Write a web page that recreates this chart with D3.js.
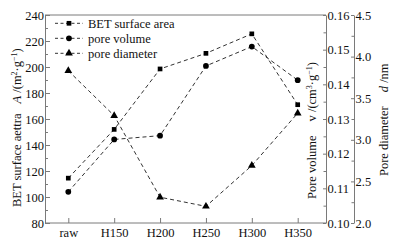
<!DOCTYPE html>
<html><head><meta charset="utf-8">
<script src="https://cdn.jsdelivr.net/npm/d3@7"></script>
<style>
body{margin:0;background:#fff}
text{font-family:"Liberation Serif","Times New Roman",serif;fill:#111}
</style></head>
<body><svg id="c" width="398" height="247"></svg>
<script>
const categories = ["raw","H150","H200","H250","H300","H350"];
const betArea = [114.5, 152, 198.5, 210.5, 225.5, 171];
const poreVolume = [0.109, 0.1241, 0.1252, 0.1453, 0.1509, 0.1412];
const poreDiameter = [3.83, 3.29, 2.31, 2.20, 2.69, 3.32];
const leftTicks = [80,100,120,140,160,180,200,220,240];
const volTicks = [0.10,0.11,0.12,0.13,0.14,0.15,0.16];
const diaTicks = [2.0,2.5,3.0,3.5,4.0,4.5];

const svg = d3.select("#c");
const L=45, R=326, T=15, B=223, R2=354;
const axisColor="#7a7a7a";
const x = d3.scalePoint().domain(categories).range([68.3, 297.7]);
const yA = d3.scaleLinear().domain([80,240]).range([B,T]);
const yV = d3.scaleLinear().domain([0.10,0.16]).range([B,T]);
const yD = d3.scaleLinear().domain([2.0,4.5]).range([B,T]);

function styleAxis(g){
  g.select(".domain").attr("stroke",axisColor);
  g.selectAll(".tick line").attr("stroke",axisColor);
  g.selectAll("text").attr("font-size",12.5).style("font-family","Liberation Serif").attr("fill","#111");
}
// frame top
svg.append("line").attr("x1",L).attr("x2",R).attr("y1",T).attr("y2",T).attr("stroke",axisColor);

// left axis minor
svg.append("g").attr("transform",`translate(${L},0)`)
  .call(d3.axisRight(yA).tickValues(d3.range(90,240,20)).tickSize(3).tickFormat(""))
  .call(g=>{g.select(".domain").remove();g.selectAll("line").attr("stroke",axisColor);});
svg.append("g").attr("transform",`translate(${L},0)`)
  .call(d3.axisLeft(yA).tickValues(leftTicks).tickSize(-5).tickPadding(1).tickSizeOuter(0))
  .call(styleAxis);
// bottom
svg.append("g").attr("transform",`translate(0,${B})`)
  .call(d3.axisBottom(x).tickSize(-5).tickPadding(5).tickSizeOuter(0))
  .call(styleAxis)
  .call(g=>g.select(".domain").attr("d",`M${L},0H${R}`));
// right volume axis
svg.append("g").attr("transform",`translate(${R},0)`)
  .call(d3.axisRight(yV).tickValues(d3.range(0.105,0.16,0.01)).tickSize(-2.5).tickFormat(""))
  .call(g=>{g.select(".domain").remove();g.selectAll("line").attr("stroke",axisColor);});
svg.append("g").attr("transform",`translate(${R},0)`)
  .call(d3.axisRight(yV).tickValues(volTicks).tickSize(-3).tickPadding(1.5).tickSizeOuter(0).tickFormat(d3.format(".2f")))
  .call(styleAxis);
// right diameter axis
svg.append("g").attr("transform",`translate(${R2},0)`)
  .call(d3.axisRight(yD).tickValues(d3.range(2.25,4.5,0.5)).tickSize(-2.5).tickFormat(""))
  .call(g=>{g.select(".domain").remove();g.selectAll("line").attr("stroke",axisColor);});
svg.append("g").attr("transform",`translate(${R2},0)`)
  .call(d3.axisRight(yD).tickValues(diaTicks).tickSize(-3).tickPadding(1.5).tickSizeOuter(0).tickFormat(d3.format(".1f")))
  .call(styleAxis);

// series
const series = [
  {name:"BET surface area", vals:betArea, y:yA, sym:d3.symbolSquare, size:22},
  {name:"pore volume", vals:poreVolume, y:yV, sym:d3.symbolCircle, size:26},
  {name:"pore diameter", vals:poreDiameter, y:yD, sym:d3.symbolTriangle, size:26}
];
const line = (s)=>d3.line().x((d,i)=>x(categories[i])).y(d=>s.y(d));
series.forEach(s=>{
  svg.append("path").attr("d",line(s)(s.vals)).attr("fill","none")
    .attr("stroke","#333").attr("stroke-width",1).attr("stroke-dasharray","4,3");
  svg.selectAll(null).data(s.vals).enter().append("path")
    .attr("d",d3.symbol().type(s.sym).size(s.size))
    .attr("transform",(d,i)=>`translate(${x(categories[i])},${s.y(d)})`)
    .attr("fill","#000");
});
// legend
series.forEach((s,i)=>{
  const ly = 23.3 + i*15;
  svg.append("line").attr("x1",55).attr("x2",83).attr("y1",ly).attr("y2",ly)
    .attr("stroke","#333").attr("stroke-dasharray","3,2.5");
  svg.append("path").attr("d",d3.symbol().type(s.sym).size(s.size)).attr("transform",`translate(69,${ly})`).attr("fill","#000");
  svg.append("text").attr("x",88).attr("y",ly+4.3).attr("font-size",12.5).text(s.name);
});
// titles
function vtitle(xp, yp, parts){
  const t = svg.append("text").attr("transform",`translate(${xp},${yp}) rotate(-90)`).attr("font-size",12.5).attr("text-anchor","start");
  parts.forEach(p=>{
    const ts = t.append("tspan").text(p.t);
    if(p.i) ts.attr("font-style","italic");
    if(p.sup) ts.attr("baseline-shift","super").attr("font-size",8);
    if(p.dx) ts.attr("dx",p.dx);
  });
}
vtitle(21, 207, [{t:"BET surface aettra"},{t:"A",i:1,dx:10},{t:" /(m"},{t:"2",sup:1},{t:"·g"},{t:"−1",sup:1},{t:")"}]);
vtitle(316, 199, [{t:"Pore volume"},{t:"v",i:0,dx:14},{t:" /(cm"},{t:"3",sup:1},{t:"·g"},{t:"−1",sup:1},{t:")"}]);
vtitle(388, 176, [{t:"Pore diameter"},{t:"d",i:1,dx:14},{t:" /nm"}]);
</script></body></html>
